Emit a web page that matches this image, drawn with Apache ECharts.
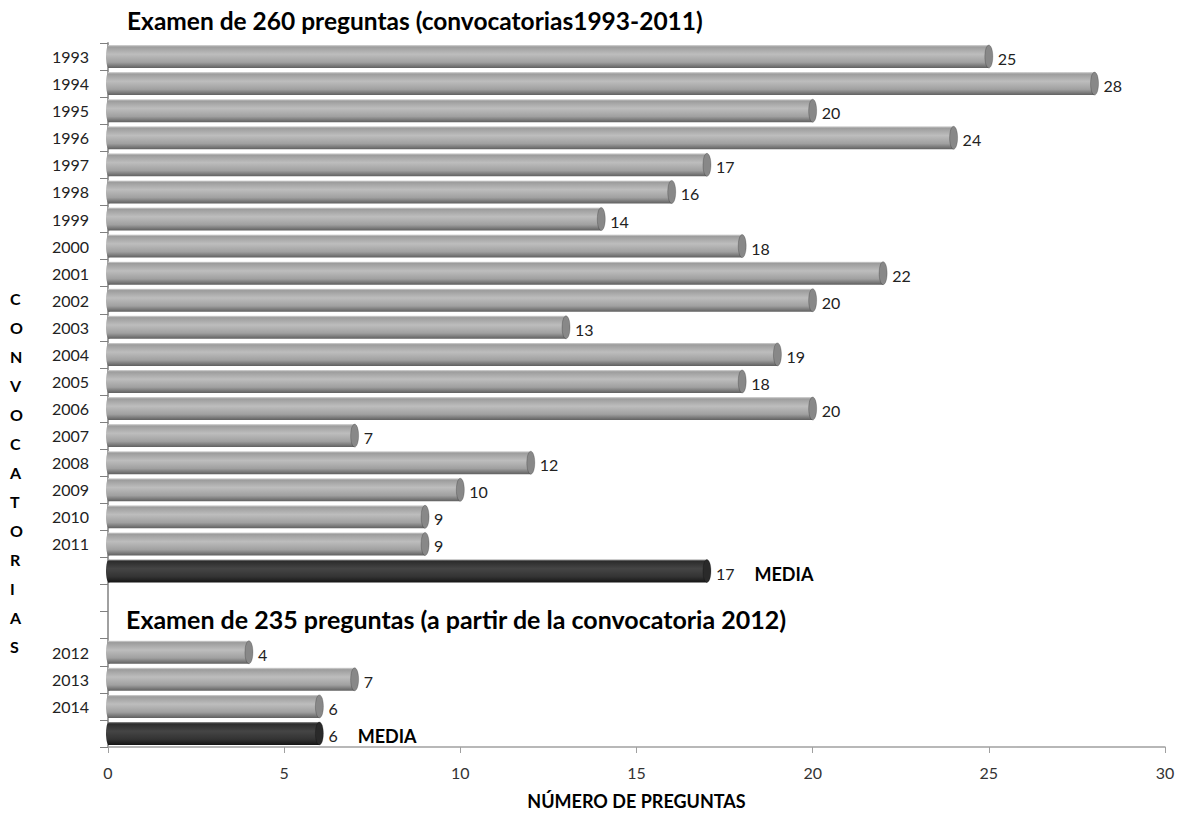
<!DOCTYPE html>
<html>
<head>
<meta charset="utf-8">
<script src="https://cdn.jsdelivr.net/npm/echarts@6/dist/echarts.min.js"></script>
<style>
  html, body { margin: 0; padding: 0; background: #fff; }
  #chart { width: 1184px; height: 814px; }
</style>
</head>
<body>
<div id="chart"></div>
<script>
// datos
var years260 = ['1993','1994','1995','1996','1997','1998','1999','2000','2001','2002','2003','2004','2005','2006','2007','2008','2009','2010','2011'];
var values260 = [25, 28, 20, 24, 17, 16, 14, 18, 22, 20, 13, 19, 18, 20, 7, 12, 10, 9, 9];
var media260 = 17;
var years235 = ['2012','2013','2014'];
var values235 = [4, 7, 6];
var media235 = 6;
var xTicks = [0, 5, 10, 15, 20, 25, 30];

// filas del eje (incluye huecos para la media y el segundo titulo)
var categories = years260.concat(['m260', 'hueco', 'titulo235'], years235, ['m235']);

var lightData = [];
years260.forEach(function (y, i) { lightData.push([values260[i], categories.indexOf(y)]); });
years235.forEach(function (y, i) { lightData.push([values235[i], categories.indexOf(y)]); });
var darkData = [[media260, categories.indexOf('m260')], [media235, categories.indexOf('m235')]];

function cylinder(colors, capColor, showMedia) {
  return function (params, api) {
    var v = api.value(0), c = api.value(1);
    var p0 = api.coord([0, c]);
    var p1 = api.coord([v, c]);
    var h = api.size([0, 1])[1] * 0.85;
    var grad = new echarts.graphic.LinearGradient(0, 0, 0, 1, colors);
    var label = showMedia ? '{v|' + v + '}{m|MEDIA}' : '{v|' + v + '}';
    return {
      type: 'group',
      children: [
        { type: 'rect', shape: { x: p0[0], y: p1[1] - h / 2, width: p1[0] - p0[0], height: h },
          style: { fill: grad },
          textContent: { style: { text: label, rich: {
              v: { fontFamily: 'Lato', fontSize: 16, fill: '#222', padding: [4, 20, 0, 0] },
              m: { fontFamily: 'Lato', fontSize: 18, fontWeight: 'bold', fill: '#000', padding: [6, 0, 0, 0] } } } },
          textConfig: { position: 'right', distance: 9 } },
        { type: 'ellipse', shape: { cx: p0[0] + 1, cy: p1[1], rx: 3, ry: h / 2 }, style: { fill: grad } },
        { type: 'ellipse', shape: { cx: p1[0], cy: p1[1], rx: 4, ry: h / 2 },
          style: { fill: capColor, stroke: 'rgba(0,0,0,0.25)', lineWidth: 0.8 } }
      ]
    };
  };
}

var chart = echarts.init(document.getElementById('chart'), null, { renderer: 'svg' });
chart.setOption({
  animation: false,
  title: [
    { text: 'Examen de 260 preguntas (convocatorias1993-2011)', left: 122, top: 3,
      textStyle: { fontFamily: 'Lato', fontSize: 24.5, fontWeight: 'bold', color: '#000' } },
    { text: 'Examen de 235 preguntas (a partir de la convocatoria 2012)', left: 121, top: 601,
      textStyle: { fontFamily: 'Lato', fontSize: 25, fontWeight: 'bold', color: '#000' } }
  ],
  grid: { left: 108, right: 19, top: 43, bottom: 67, outerBoundsMode: 'none', containLabel: false },
  xAxis: {
    type: 'value', min: 0, max: 30, interval: 5,
    name: 'NÚMERO DE PREGUNTAS', nameLocation: 'middle', nameGap: 45,
    nameTextStyle: { fontFamily: 'Lato', fontSize: 18, fontWeight: 'bold', color: '#000' },
    axisLine: { show: true, lineStyle: { color: '#a0a0a0', width: 1.5 } },
    axisTick: { show: true, length: 6, lineStyle: { color: '#a0a0a0' } },
    axisLabel: { fontFamily: 'Lato', fontSize: 16, color: '#333', margin: 17,
      formatter: function (v) { return xTicks.indexOf(v) >= 0 ? String(v) : ''; } },
    splitLine: { show: false }
  },
  yAxis: {
    type: 'category', data: categories, inverse: true,
    axisLine: { show: true, lineStyle: { color: '#a0a0a0', width: 2 } },
    axisTick: { show: true, length: 8, lineStyle: { color: '#808080' } },
    axisLabel: { fontFamily: 'Lato', fontSize: 16, color: '#222', margin: 19,
      formatter: function (v) { return /^\d{4}$/.test(v) ? v : ''; } }
  },
  graphic: [
    { type: 'text', left: 10, top: 284,
      style: { text: 'CONVOCATORIAS'.split('').join('\n'), fontFamily: 'Lato', fontSize: 16,
        fontWeight: 'bold', fill: '#000', lineHeight: 29, align: 'center' } }
  ],
  series: [
    { type: 'custom', data: lightData, encode: { x: 0, y: 1 },
      renderItem: cylinder([
        { offset: 0, color: '#d8d8d8' }, { offset: 0.08, color: '#9c9c9c' },
        { offset: 0.4, color: '#bdbdbd' }, { offset: 0.75, color: '#a0a0a0' },
        { offset: 1, color: '#606060' }], '#888888', false) },
    { type: 'custom', data: darkData, encode: { x: 0, y: 1 },
      renderItem: cylinder([
        { offset: 0, color: '#9a9a9a' }, { offset: 0.08, color: '#2c2c2c' },
        { offset: 0.4, color: '#454545' }, { offset: 0.75, color: '#333333' },
        { offset: 1, color: '#151515' }], '#2a2a2a', true) }
  ]
});
</script>
</body>
</html>
